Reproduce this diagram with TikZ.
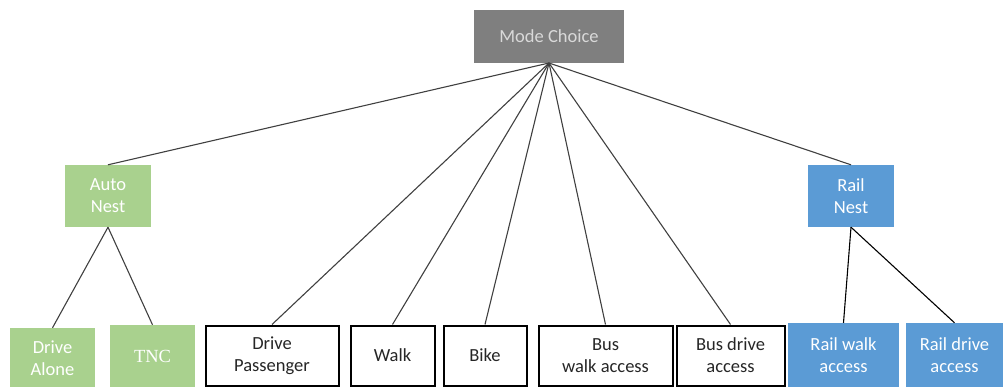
\documentclass[tikz,border=0pt]{standalone}
\usepackage{fontspec}
\setmainfont{Carlito}
\newfontfamily\timesf{Liberation Serif}
\definecolor{modegray}{HTML}{7F7F7F}
\definecolor{modetext}{HTML}{D9D9D9}
\definecolor{autogreen}{HTML}{A9D18E}
\definecolor{railblue}{HTML}{5B9BD5}
\definecolor{linegray}{HTML}{404040}
\begin{document}
\begin{tikzpicture}[x=1pt,y=-1pt,
  base/.style={rectangle, inner sep=0pt, align=center, font=\fontsize{18.5}{22}\selectfont},
  modebox/.style={base, fill=modegray, text=modetext},
  autobox/.style={base, fill=autogreen, text=white},
  railbox/.style={base, fill=railblue, text=white},
  altbox/.style={base, draw=black, line width=2pt, fill=white, text=black!85},
  link/.style={draw=linegray, line width=1.1pt},
  blink/.style={draw=black, line width=1.1pt}]
\useasboundingbox (0,0) rectangle (1003,387);
\node[modebox, minimum width=150pt, minimum height=53pt] (mode) at (549,36.5) {Mode Choice};
\node[autobox, minimum width=86pt, minimum height=62pt] (auto) at (108,196) {Auto\\Nest};
\node[railbox, minimum width=86pt, minimum height=62pt] (rail) at (851,196) {Rail\\Nest};
\node[autobox, minimum width=85pt, minimum height=60pt] (da) at (52.5,358) {Drive\\Alone};
\node[autobox, minimum width=85pt, minimum height=62pt, font=\timesf\fontsize{18.5}{22}\selectfont] (tnc) at (152.5,356) {TNC};
\node[altbox, minimum width=133pt, minimum height=60pt] (dp) at (272,355.5) {Drive\\Passenger};
\node[altbox, minimum width=84pt, minimum height=60pt] (walk) at (392.5,355.5) {Walk};
\node[altbox, minimum width=83pt, minimum height=60pt] (bike) at (485,355.5) {Bike};
\node[altbox, minimum width=134pt, minimum height=60pt] (bwa) at (605.5,355.5) {Bus\\walk access};
\node[altbox, minimum width=108pt, minimum height=60pt] (bda) at (730.5,355.5) {Bus drive\\access};
\node[railbox, minimum width=111pt, minimum height=64pt] (rwa) at (843.5,355) {Rail walk\\access};
\node[railbox, minimum width=97pt, minimum height=64pt] (rda) at (954.5,355) {Rail drive\\access};
\coordinate (apex) at (549,63);
\foreach \t in {auto,dp,walk,bike,bwa,bda,rail} \draw[link] (apex) -- (\t.north);
\draw[link] (auto.south) -- (da.north);
\draw[link] (auto.south) -- (tnc.north);
\draw[blink] (rail.south) -- (rwa.north);
\draw[blink] (rail.south) -- (rda.north);
\end{tikzpicture}
\end{document}
